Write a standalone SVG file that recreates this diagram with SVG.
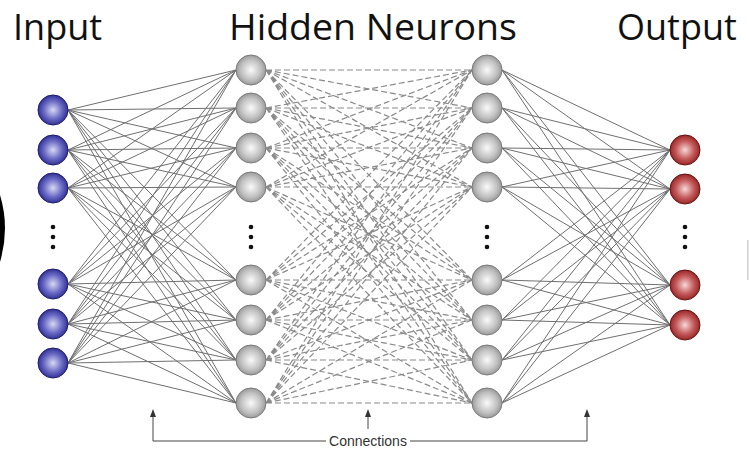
<svg xmlns="http://www.w3.org/2000/svg" width="749" height="449" viewBox="0 0 749 449">
<style>
.title{font-family:"Open Sans","Liberation Sans",sans-serif;font-size:36px;fill:#111;}
.lbl{font-family:"Liberation Sans",Arial,sans-serif;font-size:14px;fill:#333;}
.solid{stroke:#6f6f6f;stroke-width:1;fill:none;}
.dash{stroke:#8a8a8a;stroke-width:1.2;stroke-dasharray:6 3;fill:none;}
.inp{fill:url(#gBlue);stroke:#1c1c6e;stroke-width:1;}
.hid{fill:url(#gGray);stroke:#7a7a7a;stroke-width:1;}
.out{fill:url(#gRed);stroke:#6a1010;stroke-width:1;}
.dot{fill:#111;}
.br{stroke:#444;stroke-width:1;fill:none;}
.ah{fill:#333;}
</style>
<defs>
<radialGradient id="gBlue" cx="0.5" cy="0.5" r="0.55">
<stop offset="0" stop-color="#d8d8f4"/><stop offset="0.55" stop-color="#6a6ac4"/><stop offset="1" stop-color="#23238a"/>
</radialGradient>
<radialGradient id="gGray" cx="0.5" cy="0.5" r="0.55">
<stop offset="0" stop-color="#fafafa"/><stop offset="0.6" stop-color="#c2c2c2"/><stop offset="1" stop-color="#8e8e8e"/>
</radialGradient>
<radialGradient id="gRed" cx="0.5" cy="0.5" r="0.55">
<stop offset="0" stop-color="#f6d8d8"/><stop offset="0.55" stop-color="#c45a5a"/><stop offset="1" stop-color="#8e1a1a"/>
</radialGradient>
</defs>

<rect width="749" height="449" fill="#ffffff"/>

<path d="M0 195Q10 228 0 262Z" fill="#000"/>
<rect x="747" y="240" width="1.5" height="40" fill="#d0d0d0"/>

<g id="titles">
<text class="title" x="13" y="40">Input</text>
<text class="title" x="229" y="40" textLength="288" lengthAdjust="spacingAndGlyphs">Hidden Neurons</text>
<text class="title" x="617" y="40">Output</text>
</g>

<g id="connectors">
<g class="solid">
<path d="M68 110L236 70M68 110L236 108M68 110L236 148M68 110L236 187M68 110L236 280M68 110L236 320M68 110L236 360M68 110L236 403"/>
<path d="M68 150L236 70M68 150L236 108M68 150L236 148M68 150L236 187M68 150L236 280M68 150L236 320M68 150L236 360M68 150L236 403"/>
<path d="M68 188L236 70M68 188L236 108M68 188L236 148M68 188L236 187M68 188L236 280M68 188L236 320M68 188L236 360M68 188L236 403"/>
<path d="M68 284L236 70M68 284L236 108M68 284L236 148M68 284L236 187M68 284L236 280M68 284L236 320M68 284L236 360M68 284L236 403"/>
<path d="M68 324L236 70M68 324L236 108M68 324L236 148M68 324L236 187M68 324L236 280M68 324L236 320M68 324L236 360M68 324L236 403"/>
<path d="M68 363L236 70M68 363L236 108M68 363L236 148M68 363L236 187M68 363L236 280M68 363L236 320M68 363L236 360M68 363L236 403"/>
</g>
<g class="dash">
<path d="M266 70L472 70M266 70L472 108M266 70L472 148M266 70L472 187M266 70L472 280M266 70L472 320M266 70L472 360M266 70L472 403"/>
<path d="M266 108L472 70M266 108L472 108M266 108L472 148M266 108L472 187M266 108L472 280M266 108L472 320M266 108L472 360M266 108L472 403"/>
<path d="M266 148L472 70M266 148L472 108M266 148L472 148M266 148L472 187M266 148L472 280M266 148L472 320M266 148L472 360M266 148L472 403"/>
<path d="M266 187L472 70M266 187L472 108M266 187L472 148M266 187L472 187M266 187L472 280M266 187L472 320M266 187L472 360M266 187L472 403"/>
<path d="M266 280L472 70M266 280L472 108M266 280L472 148M266 280L472 187M266 280L472 280M266 280L472 320M266 280L472 360M266 280L472 403"/>
<path d="M266 320L472 70M266 320L472 108M266 320L472 148M266 320L472 187M266 320L472 280M266 320L472 320M266 320L472 360M266 320L472 403"/>
<path d="M266 360L472 70M266 360L472 108M266 360L472 148M266 360L472 187M266 360L472 280M266 360L472 320M266 360L472 360M266 360L472 403"/>
<path d="M266 403L472 70M266 403L472 108M266 403L472 148M266 403L472 187M266 403L472 280M266 403L472 320M266 403L472 360M266 403L472 403"/>
</g>
<g class="solid">
<path d="M502 70L670 150M502 70L670 189M502 70L670 285M502 70L670 325"/>
<path d="M502 108L670 150M502 108L670 189M502 108L670 285M502 108L670 325"/>
<path d="M502 148L670 150M502 148L670 189M502 148L670 285M502 148L670 325"/>
<path d="M502 187L670 150M502 187L670 189M502 187L670 285M502 187L670 325"/>
<path d="M502 280L670 150M502 280L670 189M502 280L670 285M502 280L670 325"/>
<path d="M502 320L670 150M502 320L670 189M502 320L670 285M502 320L670 325"/>
<path d="M502 360L670 150M502 360L670 189M502 360L670 285M502 360L670 325"/>
<path d="M502 403L670 150M502 403L670 189M502 403L670 285M502 403L670 325"/>
</g>
<g id="bracket">
<path class="br" d="M153 414V441H326M410 441H587V414M368 429V414"/>
<polygon class="ah" points="150,417 153,409 156,417"/>
<polygon class="ah" points="365,417 368,409 371,417"/>
<polygon class="ah" points="584,417 587,409 590,417"/>
<text class="lbl" x="368" y="446" text-anchor="middle">Connections</text>
</g>
</g>

<g id="input-layer">
<g id="in1"><circle class="inp" cx="53" cy="110" r="15"/></g>
<g id="in2"><circle class="inp" cx="53" cy="150" r="15"/></g>
<g id="in3"><circle class="inp" cx="53" cy="188" r="15"/></g>
<g id="in-dots"><circle class="dot" cx="53" cy="227" r="2.3"/><circle class="dot" cx="53" cy="237" r="2.3"/><circle class="dot" cx="53" cy="247" r="2.3"/></g>
<g id="in4"><circle class="inp" cx="53" cy="284" r="15"/></g>
<g id="in5"><circle class="inp" cx="53" cy="324" r="15"/></g>
<g id="in6"><circle class="inp" cx="53" cy="363" r="15"/></g>
</g>

<g id="hidden-layer-1">
<g id="h1a"><circle class="hid" cx="251" cy="70" r="15"/></g>
<g id="h1b"><circle class="hid" cx="251" cy="108" r="15"/></g>
<g id="h1c"><circle class="hid" cx="251" cy="148" r="15"/></g>
<g id="h1d"><circle class="hid" cx="251" cy="187" r="15"/></g>
<g id="h1-dots"><circle class="dot" cx="251" cy="227" r="2.3"/><circle class="dot" cx="251" cy="237" r="2.3"/><circle class="dot" cx="251" cy="247" r="2.3"/></g>
<g id="h1e"><circle class="hid" cx="251" cy="280" r="15"/></g>
<g id="h1f"><circle class="hid" cx="251" cy="320" r="15"/></g>
<g id="h1g"><circle class="hid" cx="251" cy="360" r="15"/></g>
<g id="h1h"><circle class="hid" cx="251" cy="403" r="15"/></g>
</g>

<g id="hidden-layer-2">
<g id="h2a"><circle class="hid" cx="487" cy="70" r="15"/></g>
<g id="h2b"><circle class="hid" cx="487" cy="108" r="15"/></g>
<g id="h2c"><circle class="hid" cx="487" cy="148" r="15"/></g>
<g id="h2d"><circle class="hid" cx="487" cy="187" r="15"/></g>
<g id="h2-dots"><circle class="dot" cx="487" cy="227" r="2.3"/><circle class="dot" cx="487" cy="237" r="2.3"/><circle class="dot" cx="487" cy="247" r="2.3"/></g>
<g id="h2e"><circle class="hid" cx="487" cy="280" r="15"/></g>
<g id="h2f"><circle class="hid" cx="487" cy="320" r="15"/></g>
<g id="h2g"><circle class="hid" cx="487" cy="360" r="15"/></g>
<g id="h2h"><circle class="hid" cx="487" cy="403" r="15"/></g>
</g>

<g id="output-layer">
<g id="o1"><circle class="out" cx="685" cy="150" r="15"/></g>
<g id="o2"><circle class="out" cx="685" cy="189" r="15"/></g>
<g id="o-dots"><circle class="dot" cx="685" cy="227" r="2.3"/><circle class="dot" cx="685" cy="237" r="2.3"/><circle class="dot" cx="685" cy="247" r="2.3"/></g>
<g id="o3"><circle class="out" cx="685" cy="285" r="15"/></g>
<g id="o4"><circle class="out" cx="685" cy="325" r="15"/></g>
</g>
</svg>
